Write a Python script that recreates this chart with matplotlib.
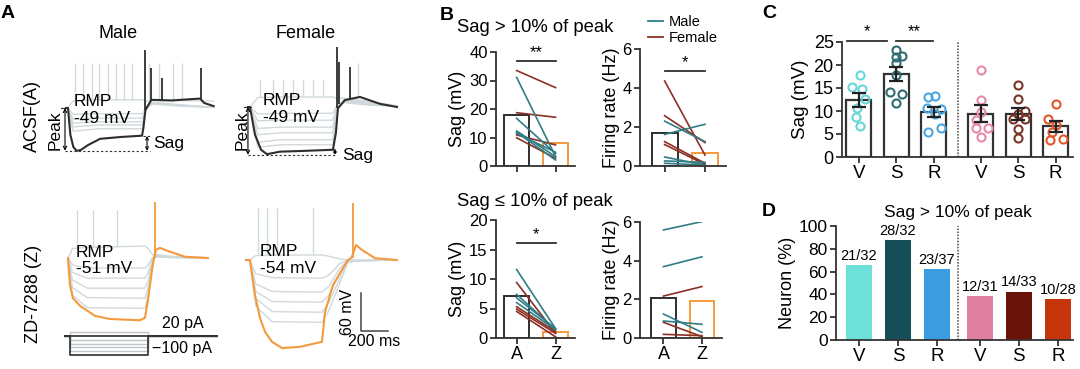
import numpy as np
import matplotlib
matplotlib.use("Agg")
import matplotlib.pyplot as plt
from matplotlib.lines import Line2D

plt.rcParams['font.family'] = ['Liberation Sans', 'DejaVu Sans']

# ---------------- data ----------------
# panel A traces (time ms, membrane potential mV)
ma_t = [0, 22, 40, 62, 85, 115, 170, 260, 420, 570, 580, 595, 640, 790, 1000, 1030, 1100]
ma_v = [-49, -49, -92, -111, -117, -116, -108, -98, -95, -93, -81, -52, -36, -37, -34, -41, -46]
ma_spk = [(592, -52, 44), (634, -37, 14), (718, -37, -1), (1004, -34, 14)]
ma_gray_t = [0, 20, 60, 250, 575, 600, 650, 850, 1100]
ma_gray_v = [[-49, -49, -86, -82, -82, -52, -40, -44, -48],
             [-49, -49, -79, -76, -76, -50, -40, -44, -48],
             [-49, -49, -73, -71, -71, -49, -41, -45, -48],
             [-49, -49, -67, -65, -65, -48, -42, -45, -48],
             [-49, -49, -59, -58, -58, -47, -43, -46, -48],
             [-49, -49, -38, -36, -36, -38, -37, -37, -38]]
ma_gray_spk = [74, 136, 197, 254, 321, 377, 437, 498, 624, 698, 802, 863]

fa_t = [0, 22, 59, 104, 148, 244, 392, 636, 658, 673, 725, 836, 984, 1110]
fa_v = [-49, -49, -93, -117, -124, -120, -119, -117, -90, -51, -38, -33, -44, -49]
fa_spk = [(663, -51, 47), (683, -45, 22), (762, -38, 15)]
fa_gray_t = [0, 22, 80, 250, 635, 665, 720, 900, 1110]
fa_gray_v = [[-49, -49, -113, -109, -109, -55, -37, -42, -48],
             [-49, -49, -105, -101, -101, -53, -37, -42, -48],
             [-49, -49, -93, -90, -90, -51, -38, -43, -48],
             [-49, -49, -83, -81, -81, -50, -39, -44, -48],
             [-49, -49, -71, -70, -70, -48, -40, -45, -48],
             [-49, -49, -60, -59, -59, -47, -42, -46, -48],
             [-49, -49, -34, -33, -33, -35, -35, -40, -47]]
fa_gray_spk = [(96, -6), (190, -6), (264, -6), (343, -6), (417, -6), (491, -6), (565, -6), (824, 21)]

mz_t = [0, 7, 22, 44, 96, 207, 318, 540, 577, 599, 629, 644, 658, 688, 762, 873, 1043]
mz_v = [-51, -51, -94, -115, -127, -143, -148, -150, -146, -118, -70, -51, -38, -35, -41, -49, -51]
mz_spk = [(651, -51, 38)]
mz_gray_t = [0, 10, 40, 150, 577, 600, 630, 660, 750, 1045]
mz_gray_v = [[-51, -51, -110, -130, -131, -110, -60, -45, -48, -51],
             [-51, -51, -98, -114, -115, -98, -57, -46, -49, -51],
             [-51, -51, -86, -99, -99, -87, -54, -47, -49, -51],
             [-51, -51, -74, -83, -83, -75, -52, -48, -50, -51],
             [-51, -51, -62, -67, -67, -62, -51, -49, -50, -51],
             [-51, -51, -36, -34, -32, -36, -45, -49, -50, -51]]
mz_gray_spk = [74, 192, 370]

fz_t = [0, 37, 74, 111, 148, 200, 274, 407, 570, 592, 651, 725, 762, 790, 822, 866, 962, 1125]
fz_v = [-54, -54, -110, -146, -168, -184, -194, -192, -184, -137, -94, -67, -54, -50, -30, -38, -51, -54]
fz_spk = [(801, -50, 36)]
fz_gray_t = [0, 35, 80, 200, 570, 620, 700, 760, 850, 1125]
fz_gray_v = [[-54, -54, -76, -82, -83, -78, -60, -54, -55, -54],
             [-54, -54, -92, -104, -105, -96, -68, -55, -55, -54],
             [-54, -54, -104, -120, -121, -110, -76, -56, -55, -54],
             [-54, -54, -115, -136, -137, -122, -84, -57, -55, -54],
             [-54, -54, -127, -152, -153, -135, -92, -58, -55, -54],
             [-54, -54, -47, -46, -46, -48, -52, -54, -54, -54]]
fz_gray_spk = [96, 163, 237, 503]

stim_levels = [20, 0, -20, -40, -60, -80, -100]   # pA
stim_t = [0, 44, 44, 622, 622, 1132]

# panel B: paired values (A = ACSF, Z = ZD-7288)
b1_male_A = [31.1, 16.7, 12.3, 11.5, 11.8]
b1_male_Z = [3.3, 4.4, 3.3, 4.8, 2.1]
b1_fem_A = [33.5, 18.7, 10.9, 9.9]
b1_fem_Z = [27.5, 17.1, 7.4, 2.7]
b1_bars = [17.9, 8.0]

b2_male_A = [2.3, 1.62, 0.46, 0.26, 0.14]
b2_male_Z = [1.25, 2.14, 0.05, 0.19, 0.05]
b2_fem_A = [4.36, 2.58, 1.25, 1.1]
b2_fem_Z = [0.56, 1.2, 0.14, 0.08]
b2_bars = [1.68, 0.65]

b3_male_A = [11.6, 7.4, 6.8, 6.0]
b3_male_Z = [1.6, 1.4, 1.6, 1.4]
b3_fem_A = [9.4, 5.3, 4.9, 4.5]
b3_fem_Z = [0.8, 1.1, 0.8, 0.2]
b3_bars = [7.1, 1.07]

b4_male_A = [5.59, 3.69, 1.24, 0.88]
b4_male_Z = [6.02, 4.2, 0.29, 0.71]
b4_fem_A = [2.17, 0.81, 0.19]
b4_fem_Z = [2.66, 0.07, 0.12]
b4_bars = [2.05, 1.93]

# panel C: sag per neuron
c_groups = ['V', 'S', 'R', 'V', 'S', 'R']
c_points = [[17.9, 15.2, 14.7, 12.7, 10.6, 8.7, 6.8],
            [23.3, 22.0, 21.8, 20.4, 17.8, 14.1, 13.6, 11.7],
            [13.1, 13.3, 10.6, 10.4, 9.3, 6.4, 5.4],
            [18.9, 12.5, 9.8, 8.0, 6.2, 6.2, 4.3],
            [15.6, 12.7, 10.0, 9.3, 8.3, 8.3, 6.1, 4.2],
            [11.5, 8.2, 6.9, 5.5, 3.8, 4.0]]
c_jitter = [[0.03, -0.18, 0.09, 0.16, -0.06, -0.08, 0.03],
            [0, 0.16, 0, 0, 0, -0.18, 0.16, 0],
            [-0.15, 0.03, -0.18, 0.18, 0.03, 0.18, -0.15],
            [0, 0, 0, -0.12, 0.2, -0.12, 0],
            [0, 0, 0.17, 0, -0.15, 0.19, 0, 0],
            [0, -0.22, 0, -0.1, -0.16, 0.18]]
c_colors = ['#66d6d6', '#2c6c72', '#4ba6e0', '#e68aa8', '#7c3428', '#e0572b']

# panel D: neurons with sag > 10% of peak
d_hit = [21, 28, 23, 12, 14, 10]
d_total = [32, 32, 37, 31, 33, 28]
d_colors = ['#6de0da', '#144f58', '#3b9de0', '#e17fa0', '#6a1409', '#c7350d']

# ---------------- figure ----------------
W, H = 1080, 369
fig = plt.figure(figsize=(W / 100, H / 100), dpi=100)


def box(l, t, r, b):
    return fig.add_axes([l / W, 1 - b / H, (r - l) / W, (b - t) / H])


def ftext(x, y, s, **kw):
    fig.text(x / W, 1 - y / H, s, **kw)


GRAY = '#d0d9dc'
DARK = '#2e2e2e'
ORANGE = '#f39a3d'
TEAL = '#2f7d86'
BROWN = '#8c2f25'


def trace_ax(l, t, r, b, xlim, ylim):
    ax = box(l, t, r, b)
    ax.set_xlim(*xlim)
    ax.set_ylim(*ylim)
    ax.axis('off')
    return ax


def draw_traces(ax, gt, gv, gspk, mt, mv, mspk, color):
    for v in gv:
        ax.plot(gt, v, color=GRAY, lw=1.0, zorder=1)
    for t, base, peak in gspk:
        ax.vlines(t, base, peak, color=GRAY, lw=1.0, zorder=1)
    ax.plot(mt, mv, color=color, lw=1.5, zorder=3)
    for t, base, peak in mspk:
        ax.vlines(t, base, peak, color=color, lw=1.3, zorder=3)


tf = dict(fontsize=12.5)

# Male ACSF
ax = trace_ax(65, 45, 215, 160, (0, 1110), (-131.7, 51.2))
draw_traces(ax, ma_gray_t, ma_gray_v, [(t, -36, 22) for t in ma_gray_spk], ma_t, ma_v, ma_spk, DARK)
ax.text(67, -39, 'RMP', va='center', **tf)
ax.text(67, -66, '-49 mV', va='center', **tf)
ax.annotate('', xy=(0, -117), xytext=(0, -49),
            arrowprops=dict(arrowstyle='<->', lw=0.8, shrinkA=0, shrinkB=0, mutation_scale=6))
ax.plot([-30, 22], [-49, -49], color=DARK, lw=0.8, clip_on=False)
ax.text(-76, -84, 'Peak', rotation=90, ha='center', va='center', clip_on=False, **tf)
ax.plot([0, 629], [-117, -117], color=DARK, lw=0.8, ls=(0, (2, 2)))
ax.plot([577, 629], [-93.5, -93.5], color=DARK, lw=0.8, ls=(0, (2, 2)))
ax.annotate('', xy=(607, -117), xytext=(607, -93.5),
            arrowprops=dict(arrowstyle='<->', lw=0.8, shrinkA=0, shrinkB=0, mutation_scale=5))
ax.text(651, -106, 'Sag', va='center', clip_on=False, **tf)

# Female ACSF
ax = trace_ax(247, 40, 399, 165, (0, 1125), (-141.2, 57.5))
draw_traces(ax, fa_gray_t, fa_gray_v, [(t, -33, p) for t, p in fa_gray_spk], fa_t, fa_v, fa_spk, DARK)
ax.text(118, -38, 'RMP', va='center', **tf)
ax.text(118, -65, '-49 mV', va='center', **tf)
ax.annotate('', xy=(7, -125), xytext=(7, -49),
            arrowprops=dict(arrowstyle='<->', lw=0.8, shrinkA=0, shrinkB=0, mutation_scale=6))
ax.plot([-25, 30], [-49, -49], color=DARK, lw=0.8, clip_on=False)
ax.text(-39, -86, 'Peak', rotation=90, ha='center', va='center', clip_on=False, **tf)
ax.plot([7, 651], [-125, -125], color=DARK, lw=0.8, ls=(0, (2, 2)))
ax.plot([610, 651], [-116, -116], color=DARK, lw=0.8, ls=(0, (2, 2)))
ax.annotate('', xy=(651, -125), xytext=(651, -116),
            arrowprops=dict(arrowstyle='<->', lw=0.8, shrinkA=0, shrinkB=0, mutation_scale=4))
ax.text(705, -126, 'Sag', va='center', clip_on=False, **tf)

# ZD male
ax = trace_ax(67, 195, 210, 330, (0, 1058), (-165.5, 49.2))
draw_traces(ax, mz_gray_t, mz_gray_v, [(t, -34, 25) for t in mz_gray_spk], mz_t, mz_v, mz_spk, ORANGE)
ax.text(67, -41.5, 'RMP', va='center', **tf)
ax.text(67, -67, '-51 mV', va='center', **tf)

# ZD female
ax = trace_ax(245, 195, 399, 355, (0, 1140), (-205, 49.4))
draw_traces(ax, fz_gray_t, fz_gray_v, [(t, -46, 28) for t in fz_gray_spk], fz_t, fz_v, fz_spk, ORANGE)
ax.text(111, -41, 'RMP', va='center', **tf)
ax.text(111, -67, '-54 mV', va='center', **tf)
ax.plot([858, 858, 1058], [-107, -167, -167], color='#444444', lw=1.1, clip_on=False)
ax.text(762, -137, '60 mV', rotation=90, ha='center', va='center', clip_on=False, fontsize=11.5)
ax.text(958, -184, '200 ms', ha='center', va='center', clip_on=False, fontsize=11.5)

# stimulus
ax = trace_ax(64, 325, 218, 360, (0, 1140), (-126, 58))
for lvl in stim_levels:
    c = DARK if lvl in (0, -100) else '#bcc6ca'
    ax.plot(stim_t, [0, 0, lvl, lvl, 0, 0], color=c, lw=1.0 if c != DARK else 1.2,
            zorder=3 if c == DARK else 1)
ax.text(1036, 68, '20 pA', ha='right', va='center', clip_on=False, fontsize=11.5)
ax.text(651, -68, '\u2212100 pA', ha='left', va='center', clip_on=False, fontsize=11.5)

ftext(8, 14, 'A', fontsize=14, fontweight='bold', ha='center', va='center')
ftext(118, 34, 'Male', fontsize=13, ha='center', va='center')
ftext(306, 34, 'Female', fontsize=13, ha='center', va='center')
ftext(32, 116, 'ACSF(A)', fontsize=13, rotation=90, ha='center', va='center')
ftext(33, 294, 'ZD-7288 (Z)', fontsize=13, rotation=90, ha='center', va='center')


# ---------------- panel B ----------------
def style(ax, tick_fs):
    for s in ('top', 'right'):
        ax.spines[s].set_visible(False)
    for s in ('left', 'bottom'):
        ax.spines[s].set_linewidth(1.3)
        ax.spines[s].set_color('#333333')
    ax.tick_params(width=1.3, length=4, labelsize=tick_fs, pad=2, color='#333333')


def pair_panel(ax, bars, mA, mZ, fA, fZ, ylim, yticks, ylabel, xlim, labels):
    ax.bar([0, 1], bars, width=0.64, facecolor='white', edgecolor=[DARK, ORANGE], lw=1.4, zorder=1)
    for a, z in zip(fA, fZ):
        ax.plot([0, 1], [a, z], color=BROWN, lw=1.2, zorder=2)
    for a, z in zip(mA, mZ):
        ax.plot([0, 1], [a, z], color=TEAL, lw=1.2, zorder=2)
    ax.set_xlim(*xlim)
    ax.set_ylim(*ylim)
    ax.set_yticks(yticks)
    ax.set_xticks([0, 1])
    style(ax, 12)
    ax.set_xticklabels(labels, fontsize=13)
    ax.xaxis.get_major_ticks()[1].tick1line.set_color(ORANGE)
    ax.set_ylabel(ylabel, fontsize=13, labelpad=2)


ax = box(496, 52, 575, 166)
pair_panel(ax, b1_bars, b1_male_A, b1_male_Z, b1_fem_A, b1_fem_Z, (0, 40), [0, 10, 20, 30, 40],
           'Sag (mV)', (-0.53, 1.5), ['', ''])
ax.plot([0, 1], [36.8, 36.8], color=DARK, lw=1.3, clip_on=False)
ax.text(0.5, 37.2, '**', ha='center', va='bottom', fontsize=12)

ax = box(640, 49, 726, 166)
pair_panel(ax, b2_bars, b2_male_A, b2_male_Z, b2_fem_A, b2_fem_Z, (0, 6), [0, 2, 4, 6],
           'Firing rate (Hz)', (-0.61, 1.52), ['', ''])
ax.plot([0, 1], [4.87, 4.87], color=DARK, lw=1.3, clip_on=False)
ax.text(0.5, 4.93, '*', ha='center', va='bottom', fontsize=12)

ax = box(496, 220, 575, 338)
pair_panel(ax, b3_bars, b3_male_A, b3_male_Z, b3_fem_A, b3_fem_Z, (0, 20), [0, 5, 10, 15, 20],
           'Sag (mV)', (-0.53, 1.5), ['A', 'Z'])
ax.plot([0, 1], [16.1, 16.1], color=DARK, lw=1.3, clip_on=False)
ax.text(0.5, 16.3, '*', ha='center', va='bottom', fontsize=12)

ax = box(640, 222, 722, 338)
pair_panel(ax, b4_bars, b4_male_A, b4_male_Z, b4_fem_A, b4_fem_Z, (0, 6), [0, 2, 4, 6],
           'Firing rate (Hz)', (-0.61, 1.52), ['A', 'Z'])

ftext(447, 15, 'B', fontsize=14, fontweight='bold', ha='center', va='center')
ftext(535, 28, 'Sag > 10% of peak', fontsize=13.3, ha='center', va='center')
ftext(535, 202, 'Sag \u2264 10% of peak', fontsize=13.3, ha='center', va='center')
handles = [Line2D([], [], color=TEAL, lw=1.3), Line2D([], [], color=BROWN, lw=1.3)]
fig.legend(handles, ['Male', 'Female'], loc='upper left', bbox_to_anchor=(648 / W, 1 - 15 / H),
           frameon=False, fontsize=10.5, handlelength=1.0, handletextpad=0.4,
           labelspacing=0.15, borderpad=0, borderaxespad=0)

# ---------------- panel C ----------------
pos = [0, 1, 2, 3.25, 4.25, 5.25]
ax = box(842, 42, 1073, 157)
means = [np.mean(p) for p in c_points]
sems = [np.std(p, ddof=1) / np.sqrt(len(p)) for p in c_points]
ax.bar(pos, means, width=0.67, facecolor='white', edgecolor='#333333', lw=1.6, zorder=1)
for x, pts, jit, col in zip(pos, c_points, c_jitter, c_colors):
    ax.plot(np.array(jit) + x, pts, 'o', mfc='none', mec=col, mew=1.5, ms=5.8, zorder=2)
ax.errorbar(pos, means, yerr=sems, fmt='none', ecolor='#222222', elinewidth=1.6,
            capsize=5, capthick=1.6, zorder=3)
ax.axvline(2.64, color='#444444', lw=1.1, ls=(0, (1, 1)), ymax=1.0)
ax.set_xlim(-0.45, 5.71)
ax.set_ylim(0, 25)
ax.set_yticks([0, 5, 10, 15, 20, 25])
ax.set_xticks(pos)
style(ax, 13)
ax.set_xticklabels(c_groups, fontsize=13.5)
ax.set_ylabel('Sag (mV)', fontsize=13.5, labelpad=3)
ax.plot([-0.32, 0.75], [25.3, 25.3], color=DARK, lw=1.3, clip_on=False)
ax.text(0.21, 25.6, '*', ha='center', va='bottom', fontsize=12)
ax.plot([0.99, 1.97], [25.3, 25.3], color=DARK, lw=1.3, clip_on=False)
ax.text(1.48, 25.6, '**', ha='center', va='bottom', fontsize=12)
ftext(769, 13, 'C', fontsize=14, fontweight='bold', ha='center', va='center')

# ---------------- panel D ----------------
posd = [0, 1, 2, 3.1, 4.1, 5.1]
pct = [100 * h / t for h, t in zip(d_hit, d_total)]
ax = box(836, 226, 1073, 340)
ax.bar(posd, pct, width=0.68, color=d_colors, zorder=1)
for x, p, h, t in zip(posd, pct, d_hit, d_total):
    ax.text(x, p + 2, f'{h}/{t}', ha='center', va='bottom', fontsize=10.5)
ax.axvline(2.54, color='#444444', lw=1.1, ls=(0, (1, 1)))
ax.set_xlim(-0.59, 5.49)
ax.set_ylim(0, 100)
ax.set_yticks([0, 20, 40, 60, 80, 100])
ax.set_xticks(posd)
style(ax, 12.5)
ax.set_xticklabels(c_groups, fontsize=13.5)
ax.set_ylabel('Neuron (%)', fontsize=13, labelpad=2)
ftext(769, 211, 'D', fontsize=14, fontweight='bold', ha='center', va='center')
ftext(958, 212, 'Sag > 10% of peak', fontsize=12.5, ha='center', va='center')

fig.savefig('out.png', dpi=100)
